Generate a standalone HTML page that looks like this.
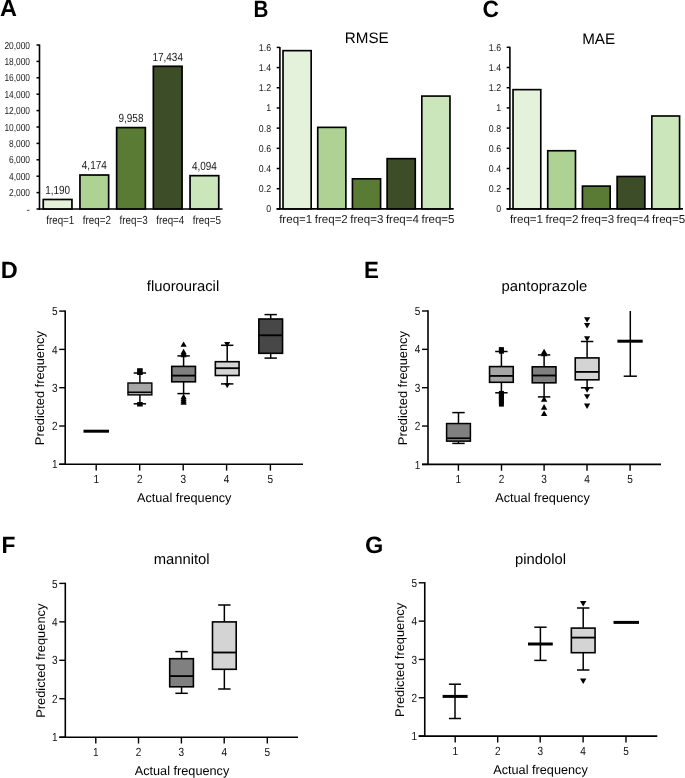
<!DOCTYPE html>
<html><head><meta charset="utf-8"><title>Figure</title>
<style>
html,body{margin:0;padding:0;background:#fff;}
body{width:685px;height:778px;overflow:hidden;}
svg{display:block;font-family:"Liberation Sans", sans-serif;text-rendering:geometricPrecision;will-change:transform;}
</style></head><body>
<svg width="685" height="778" viewBox="0 0 685 778">
<rect width="685" height="778" fill="#fff"/>
<text x="0.00" y="16.40" font-size="23.5" text-anchor="start" font-weight="bold" >A</text>
<text x="253.60" y="16.80" font-size="23.5" text-anchor="start" font-weight="bold" textLength="14.89" lengthAdjust="spacingAndGlyphs" >B</text>
<text x="482.60" y="16.80" font-size="23.5" text-anchor="start" font-weight="bold" textLength="16.46" lengthAdjust="spacingAndGlyphs" >C</text>
<text x="0.80" y="277.80" font-size="23.5" text-anchor="start" font-weight="bold" >D</text>
<text x="364.00" y="278.00" font-size="23.5" text-anchor="start" font-weight="bold" textLength="14.89" lengthAdjust="spacingAndGlyphs" >E</text>
<text x="1.40" y="552.90" font-size="23.5" text-anchor="start" font-weight="bold" textLength="13.92" lengthAdjust="spacingAndGlyphs" >F</text>
<text x="364.90" y="553.40" font-size="23.5" text-anchor="start" font-weight="bold" >G</text>
<line x1="39.50" y1="44.50" x2="39.50" y2="209.75" stroke="#000" stroke-width="1.6"/>
<line x1="38.70" y1="209.00" x2="222.60" y2="209.00" stroke="#000" stroke-width="1.6"/>
<line x1="36.50" y1="209.00" x2="39.50" y2="209.00" stroke="#000" stroke-width="1.5"/>
<text x="30.00" y="212.65" font-size="10.2" text-anchor="end" font-weight="normal" fill="#1a1a1a">-</text>
<line x1="36.50" y1="192.60" x2="39.50" y2="192.60" stroke="#000" stroke-width="1.5"/>
<text x="30.00" y="196.25" font-size="10.2" text-anchor="end" font-weight="normal" textLength="20.93" lengthAdjust="spacingAndGlyphs" fill="#1a1a1a">2,000</text>
<line x1="36.50" y1="176.20" x2="39.50" y2="176.20" stroke="#000" stroke-width="1.5"/>
<text x="30.00" y="179.85" font-size="10.2" text-anchor="end" font-weight="normal" textLength="20.93" lengthAdjust="spacingAndGlyphs" fill="#1a1a1a">4,000</text>
<line x1="36.50" y1="159.80" x2="39.50" y2="159.80" stroke="#000" stroke-width="1.5"/>
<text x="30.00" y="163.45" font-size="10.2" text-anchor="end" font-weight="normal" textLength="20.93" lengthAdjust="spacingAndGlyphs" fill="#1a1a1a">6,000</text>
<line x1="36.50" y1="143.40" x2="39.50" y2="143.40" stroke="#000" stroke-width="1.5"/>
<text x="30.00" y="147.05" font-size="10.2" text-anchor="end" font-weight="normal" textLength="20.93" lengthAdjust="spacingAndGlyphs" fill="#1a1a1a">8,000</text>
<line x1="36.50" y1="127.00" x2="39.50" y2="127.00" stroke="#000" stroke-width="1.5"/>
<text x="30.00" y="130.65" font-size="10.2" text-anchor="end" font-weight="normal" textLength="25.58" lengthAdjust="spacingAndGlyphs" fill="#1a1a1a">10,000</text>
<line x1="36.50" y1="110.60" x2="39.50" y2="110.60" stroke="#000" stroke-width="1.5"/>
<text x="30.00" y="114.25" font-size="10.2" text-anchor="end" font-weight="normal" textLength="25.58" lengthAdjust="spacingAndGlyphs" fill="#1a1a1a">12,000</text>
<line x1="36.50" y1="94.20" x2="39.50" y2="94.20" stroke="#000" stroke-width="1.5"/>
<text x="30.00" y="97.85" font-size="10.2" text-anchor="end" font-weight="normal" textLength="25.58" lengthAdjust="spacingAndGlyphs" fill="#1a1a1a">14,000</text>
<line x1="36.50" y1="77.80" x2="39.50" y2="77.80" stroke="#000" stroke-width="1.5"/>
<text x="30.00" y="81.45" font-size="10.2" text-anchor="end" font-weight="normal" textLength="25.58" lengthAdjust="spacingAndGlyphs" fill="#1a1a1a">16,000</text>
<line x1="36.50" y1="61.40" x2="39.50" y2="61.40" stroke="#000" stroke-width="1.5"/>
<text x="30.00" y="65.05" font-size="10.2" text-anchor="end" font-weight="normal" textLength="25.58" lengthAdjust="spacingAndGlyphs" fill="#1a1a1a">18,000</text>
<line x1="36.50" y1="45.00" x2="39.50" y2="45.00" stroke="#000" stroke-width="1.5"/>
<text x="30.00" y="48.65" font-size="10.2" text-anchor="end" font-weight="normal" textLength="25.58" lengthAdjust="spacingAndGlyphs" fill="#1a1a1a">20,000</text>
<rect x="43.25" y="199.49" width="28.70" height="9.46" fill="#e4f1db" stroke="#000" stroke-width="1.7"/>
<text x="57.60" y="193.94" font-size="11.8" text-anchor="middle" font-weight="normal" textLength="24.95" lengthAdjust="spacingAndGlyphs" fill="#1a1a1a">1,190</text>
<text x="60.25" y="223.60" font-size="11.7" text-anchor="middle" font-weight="normal" textLength="28.14" lengthAdjust="spacingAndGlyphs" fill="#1a1a1a">freq=1</text>
<rect x="79.95" y="175.02" width="28.70" height="33.93" fill="#aed293" stroke="#000" stroke-width="1.7"/>
<text x="94.30" y="169.47" font-size="11.8" text-anchor="middle" font-weight="normal" textLength="24.95" lengthAdjust="spacingAndGlyphs" fill="#1a1a1a">4,174</text>
<text x="96.92" y="223.60" font-size="11.7" text-anchor="middle" font-weight="normal" textLength="28.14" lengthAdjust="spacingAndGlyphs" fill="#1a1a1a">freq=2</text>
<rect x="116.65" y="127.59" width="28.70" height="81.36" fill="#5a7b34" stroke="#000" stroke-width="1.7"/>
<text x="131.00" y="122.04" font-size="11.8" text-anchor="middle" font-weight="normal" textLength="24.95" lengthAdjust="spacingAndGlyphs" fill="#1a1a1a">9,958</text>
<text x="133.59" y="223.60" font-size="11.7" text-anchor="middle" font-weight="normal" textLength="28.14" lengthAdjust="spacingAndGlyphs" fill="#1a1a1a">freq=3</text>
<rect x="153.35" y="66.29" width="28.70" height="142.66" fill="#3d4d27" stroke="#000" stroke-width="1.7"/>
<text x="167.70" y="60.74" font-size="11.8" text-anchor="middle" font-weight="normal" textLength="30.50" lengthAdjust="spacingAndGlyphs" fill="#1a1a1a">17,434</text>
<text x="170.26" y="223.60" font-size="11.7" text-anchor="middle" font-weight="normal" textLength="28.14" lengthAdjust="spacingAndGlyphs" fill="#1a1a1a">freq=4</text>
<rect x="190.05" y="175.68" width="28.70" height="33.27" fill="#cce6bb" stroke="#000" stroke-width="1.7"/>
<text x="204.40" y="170.13" font-size="11.8" text-anchor="middle" font-weight="normal" textLength="24.95" lengthAdjust="spacingAndGlyphs" fill="#1a1a1a">4,094</text>
<text x="206.93" y="223.60" font-size="11.7" text-anchor="middle" font-weight="normal" textLength="28.14" lengthAdjust="spacingAndGlyphs" fill="#1a1a1a">freq=5</text>
<line x1="279.90" y1="46.90" x2="279.90" y2="209.65" stroke="#000" stroke-width="1.6"/>
<line x1="276.60" y1="208.90" x2="453.70" y2="208.90" stroke="#000" stroke-width="1.6"/>
<line x1="276.70" y1="208.90" x2="279.90" y2="208.90" stroke="#000" stroke-width="1.5"/>
<text x="271.10" y="212.40" font-size="9.9" text-anchor="end" font-weight="normal" textLength="4.90" lengthAdjust="spacingAndGlyphs" fill="#1a1a1a">0</text>
<line x1="276.70" y1="188.71" x2="279.90" y2="188.71" stroke="#000" stroke-width="1.5"/>
<text x="271.10" y="192.21" font-size="9.9" text-anchor="end" font-weight="normal" textLength="12.25" lengthAdjust="spacingAndGlyphs" fill="#1a1a1a">0.2</text>
<line x1="276.70" y1="168.53" x2="279.90" y2="168.53" stroke="#000" stroke-width="1.5"/>
<text x="271.10" y="172.03" font-size="9.9" text-anchor="end" font-weight="normal" textLength="12.25" lengthAdjust="spacingAndGlyphs" fill="#1a1a1a">0.4</text>
<line x1="276.70" y1="148.34" x2="279.90" y2="148.34" stroke="#000" stroke-width="1.5"/>
<text x="271.10" y="151.84" font-size="9.9" text-anchor="end" font-weight="normal" textLength="12.25" lengthAdjust="spacingAndGlyphs" fill="#1a1a1a">0.6</text>
<line x1="276.70" y1="128.15" x2="279.90" y2="128.15" stroke="#000" stroke-width="1.5"/>
<text x="271.10" y="131.65" font-size="9.9" text-anchor="end" font-weight="normal" textLength="12.25" lengthAdjust="spacingAndGlyphs" fill="#1a1a1a">0.8</text>
<line x1="276.70" y1="107.96" x2="279.90" y2="107.96" stroke="#000" stroke-width="1.5"/>
<text x="271.10" y="111.46" font-size="9.9" text-anchor="end" font-weight="normal" textLength="4.90" lengthAdjust="spacingAndGlyphs" fill="#1a1a1a">1</text>
<line x1="276.70" y1="87.77" x2="279.90" y2="87.77" stroke="#000" stroke-width="1.5"/>
<text x="271.10" y="91.27" font-size="9.9" text-anchor="end" font-weight="normal" textLength="12.25" lengthAdjust="spacingAndGlyphs" fill="#1a1a1a">1.2</text>
<line x1="276.70" y1="67.59" x2="279.90" y2="67.59" stroke="#000" stroke-width="1.5"/>
<text x="271.10" y="71.09" font-size="9.9" text-anchor="end" font-weight="normal" textLength="12.25" lengthAdjust="spacingAndGlyphs" fill="#1a1a1a">1.4</text>
<line x1="276.70" y1="47.40" x2="279.90" y2="47.40" stroke="#000" stroke-width="1.5"/>
<text x="271.10" y="50.90" font-size="9.9" text-anchor="end" font-weight="normal" textLength="12.25" lengthAdjust="spacingAndGlyphs" fill="#1a1a1a">1.6</text>
<rect x="283.02" y="50.65" width="28.15" height="158.22" fill="#e4f1db" stroke="#000" stroke-width="1.65"/>
<text x="295.70" y="222.50" font-size="11.55" text-anchor="middle" font-weight="normal" fill="#1a1a1a">freq=1</text>
<rect x="317.72" y="127.37" width="28.15" height="81.51" fill="#aed293" stroke="#000" stroke-width="1.65"/>
<text x="331.27" y="222.50" font-size="11.55" text-anchor="middle" font-weight="normal" fill="#1a1a1a">freq=2</text>
<rect x="352.43" y="178.84" width="28.15" height="30.03" fill="#5a7b34" stroke="#000" stroke-width="1.65"/>
<text x="366.84" y="222.50" font-size="11.55" text-anchor="middle" font-weight="normal" fill="#1a1a1a">freq=3</text>
<rect x="387.12" y="158.66" width="28.15" height="50.22" fill="#3d4d27" stroke="#000" stroke-width="1.65"/>
<text x="402.41" y="222.50" font-size="11.55" text-anchor="middle" font-weight="normal" fill="#1a1a1a">freq=4</text>
<rect x="421.82" y="96.08" width="28.15" height="112.80" fill="#cce6bb" stroke="#000" stroke-width="1.65"/>
<text x="437.98" y="222.50" font-size="11.55" text-anchor="middle" font-weight="normal" fill="#1a1a1a">freq=5</text>
<text x="366.75" y="43.00" font-size="15.2" text-anchor="middle" font-weight="normal" >RMSE</text>
<line x1="509.90" y1="46.80" x2="509.90" y2="209.65" stroke="#000" stroke-width="1.6"/>
<line x1="506.60" y1="208.90" x2="683.00" y2="208.90" stroke="#000" stroke-width="1.6"/>
<line x1="506.70" y1="208.90" x2="509.90" y2="208.90" stroke="#000" stroke-width="1.5"/>
<text x="501.10" y="212.40" font-size="9.9" text-anchor="end" font-weight="normal" textLength="4.90" lengthAdjust="spacingAndGlyphs" fill="#1a1a1a">0</text>
<line x1="506.70" y1="188.70" x2="509.90" y2="188.70" stroke="#000" stroke-width="1.5"/>
<text x="501.10" y="192.20" font-size="9.9" text-anchor="end" font-weight="normal" textLength="12.25" lengthAdjust="spacingAndGlyphs" fill="#1a1a1a">0.2</text>
<line x1="506.70" y1="168.50" x2="509.90" y2="168.50" stroke="#000" stroke-width="1.5"/>
<text x="501.10" y="172.00" font-size="9.9" text-anchor="end" font-weight="normal" textLength="12.25" lengthAdjust="spacingAndGlyphs" fill="#1a1a1a">0.4</text>
<line x1="506.70" y1="148.30" x2="509.90" y2="148.30" stroke="#000" stroke-width="1.5"/>
<text x="501.10" y="151.80" font-size="9.9" text-anchor="end" font-weight="normal" textLength="12.25" lengthAdjust="spacingAndGlyphs" fill="#1a1a1a">0.6</text>
<line x1="506.70" y1="128.10" x2="509.90" y2="128.10" stroke="#000" stroke-width="1.5"/>
<text x="501.10" y="131.60" font-size="9.9" text-anchor="end" font-weight="normal" textLength="12.25" lengthAdjust="spacingAndGlyphs" fill="#1a1a1a">0.8</text>
<line x1="506.70" y1="107.90" x2="509.90" y2="107.90" stroke="#000" stroke-width="1.5"/>
<text x="501.10" y="111.40" font-size="9.9" text-anchor="end" font-weight="normal" textLength="4.90" lengthAdjust="spacingAndGlyphs" fill="#1a1a1a">1</text>
<line x1="506.70" y1="87.70" x2="509.90" y2="87.70" stroke="#000" stroke-width="1.5"/>
<text x="501.10" y="91.20" font-size="9.9" text-anchor="end" font-weight="normal" textLength="12.25" lengthAdjust="spacingAndGlyphs" fill="#1a1a1a">1.2</text>
<line x1="506.70" y1="67.50" x2="509.90" y2="67.50" stroke="#000" stroke-width="1.5"/>
<text x="501.10" y="71.00" font-size="9.9" text-anchor="end" font-weight="normal" textLength="12.25" lengthAdjust="spacingAndGlyphs" fill="#1a1a1a">1.4</text>
<line x1="506.70" y1="47.30" x2="509.90" y2="47.30" stroke="#000" stroke-width="1.5"/>
<text x="501.10" y="50.80" font-size="9.9" text-anchor="end" font-weight="normal" textLength="12.25" lengthAdjust="spacingAndGlyphs" fill="#1a1a1a">1.6</text>
<rect x="513.03" y="89.64" width="27.75" height="119.23" fill="#e4f1db" stroke="#000" stroke-width="1.65"/>
<text x="526.45" y="222.50" font-size="11.55" text-anchor="middle" font-weight="normal" fill="#1a1a1a">freq=1</text>
<rect x="547.73" y="150.75" width="27.75" height="58.13" fill="#aed293" stroke="#000" stroke-width="1.65"/>
<text x="562.00" y="222.50" font-size="11.55" text-anchor="middle" font-weight="normal" fill="#1a1a1a">freq=2</text>
<rect x="582.43" y="186.10" width="27.75" height="22.78" fill="#5a7b34" stroke="#000" stroke-width="1.65"/>
<text x="597.55" y="222.50" font-size="11.55" text-anchor="middle" font-weight="normal" fill="#1a1a1a">freq=3</text>
<rect x="617.12" y="176.50" width="27.75" height="32.37" fill="#3d4d27" stroke="#000" stroke-width="1.65"/>
<text x="633.10" y="222.50" font-size="11.55" text-anchor="middle" font-weight="normal" fill="#1a1a1a">freq=4</text>
<rect x="651.83" y="116.00" width="27.75" height="92.87" fill="#cce6bb" stroke="#000" stroke-width="1.65"/>
<text x="668.65" y="222.50" font-size="11.55" text-anchor="middle" font-weight="normal" fill="#1a1a1a">freq=5</text>
<text x="598.60" y="44.00" font-size="15.2" text-anchor="middle" font-weight="normal" >MAE</text>
<line x1="65.20" y1="310.40" x2="65.20" y2="464.30" stroke="#000" stroke-width="1.6"/>
<line x1="59.20" y1="464.30" x2="303.00" y2="464.30" stroke="#000" stroke-width="1.6"/>
<line x1="59.20" y1="311.10" x2="65.20" y2="311.10" stroke="#000" stroke-width="1.4"/>
<text x="57.60" y="315.20" font-size="11.8" text-anchor="end" font-weight="normal" textLength="5.58" lengthAdjust="spacingAndGlyphs" fill="#111">5</text>
<line x1="59.20" y1="349.40" x2="65.20" y2="349.40" stroke="#000" stroke-width="1.4"/>
<text x="57.60" y="353.50" font-size="11.8" text-anchor="end" font-weight="normal" textLength="5.58" lengthAdjust="spacingAndGlyphs" fill="#111">4</text>
<line x1="59.20" y1="387.70" x2="65.20" y2="387.70" stroke="#000" stroke-width="1.4"/>
<text x="57.60" y="391.80" font-size="11.8" text-anchor="end" font-weight="normal" textLength="5.58" lengthAdjust="spacingAndGlyphs" fill="#111">3</text>
<line x1="59.20" y1="426.00" x2="65.20" y2="426.00" stroke="#000" stroke-width="1.4"/>
<text x="57.60" y="430.10" font-size="11.8" text-anchor="end" font-weight="normal" textLength="5.58" lengthAdjust="spacingAndGlyphs" fill="#111">2</text>
<line x1="59.20" y1="464.30" x2="65.20" y2="464.30" stroke="#000" stroke-width="1.4"/>
<text x="57.60" y="468.40" font-size="11.8" text-anchor="end" font-weight="normal" textLength="5.58" lengthAdjust="spacingAndGlyphs" fill="#111">1</text>
<line x1="96.20" y1="464.30" x2="96.20" y2="470.60" stroke="#000" stroke-width="1.4"/>
<text x="96.20" y="483.00" font-size="11.8" text-anchor="middle" font-weight="normal" textLength="5.58" lengthAdjust="spacingAndGlyphs" fill="#111">1</text>
<line x1="139.70" y1="464.30" x2="139.70" y2="470.60" stroke="#000" stroke-width="1.4"/>
<text x="139.70" y="483.00" font-size="11.8" text-anchor="middle" font-weight="normal" textLength="5.58" lengthAdjust="spacingAndGlyphs" fill="#111">2</text>
<line x1="183.20" y1="464.30" x2="183.20" y2="470.60" stroke="#000" stroke-width="1.4"/>
<text x="183.20" y="483.00" font-size="11.8" text-anchor="middle" font-weight="normal" textLength="5.58" lengthAdjust="spacingAndGlyphs" fill="#111">3</text>
<line x1="226.60" y1="464.30" x2="226.60" y2="470.60" stroke="#000" stroke-width="1.4"/>
<text x="226.60" y="483.00" font-size="11.8" text-anchor="middle" font-weight="normal" textLength="5.58" lengthAdjust="spacingAndGlyphs" fill="#111">4</text>
<line x1="270.40" y1="464.30" x2="270.40" y2="470.60" stroke="#000" stroke-width="1.4"/>
<text x="270.40" y="483.00" font-size="11.8" text-anchor="middle" font-weight="normal" textLength="5.58" lengthAdjust="spacingAndGlyphs" fill="#111">5</text>
<text x="183.00" y="291.20" font-size="14.8" text-anchor="middle" font-weight="normal" >fluorouracil</text>
<text x="0" y="0" font-size="12.6" text-anchor="middle" textLength="114.08" lengthAdjust="spacingAndGlyphs" transform="translate(44.30,388.10) rotate(-90)">Predicted frequency</text>
<text x="184.20" y="502.00" font-size="12.7" text-anchor="middle" font-weight="normal" >Actual frequency</text>
<line x1="83.50" y1="431.20" x2="109.00" y2="431.20" stroke="#000" stroke-width="3"/>
<line x1="139.90" y1="373.00" x2="139.90" y2="382.80" stroke="#000" stroke-width="1.5"/>
<line x1="139.90" y1="395.10" x2="139.90" y2="403.80" stroke="#000" stroke-width="1.5"/>
<line x1="133.70" y1="373.00" x2="146.10" y2="373.00" stroke="#000" stroke-width="1.5"/>
<line x1="133.70" y1="403.80" x2="146.10" y2="403.80" stroke="#000" stroke-width="1.5"/>
<rect x="127.95" y="383.00" width="23.90" height="11.90" fill="#a6a6a6" stroke="#000" stroke-width="1.4"/>
<line x1="127.75" y1="392.25" x2="152.05" y2="392.25" stroke="#000" stroke-width="1.5"/>
<rect x="137.1" y="368.2" width="5.6" height="6.8" fill="#000"/>
<rect x="137.1" y="402.0" width="5.6" height="4.5" fill="#000"/>
<line x1="183.60" y1="355.90" x2="183.60" y2="366.10" stroke="#000" stroke-width="1.5"/>
<line x1="183.60" y1="382.10" x2="183.60" y2="393.60" stroke="#000" stroke-width="1.5"/>
<line x1="177.40" y1="355.90" x2="189.80" y2="355.90" stroke="#000" stroke-width="1.5"/>
<line x1="177.40" y1="393.60" x2="189.80" y2="393.60" stroke="#000" stroke-width="1.5"/>
<rect x="171.75" y="366.40" width="23.70" height="15.40" fill="#808080" stroke="#000" stroke-width="1.6"/>
<line x1="171.45" y1="375.60" x2="195.75" y2="375.60" stroke="#000" stroke-width="1.85"/>
<path d="M180.50,346.83 L186.70,346.83 L183.60,341.41Z" fill="#000"/>
<path d="M180.50,354.13 L186.70,354.13 L183.60,348.71Z" fill="#000"/>
<path d="M180.50,355.63 L186.70,355.63 L183.60,350.21Z" fill="#000"/>
<path d="M180.50,357.13 L186.70,357.13 L183.60,351.71Z" fill="#000"/>
<path d="M180.50,399.13 L186.70,399.13 L183.60,393.71Z" fill="#000"/>
<path d="M180.50,401.13 L186.70,401.13 L183.60,395.71Z" fill="#000"/>
<path d="M180.50,403.13 L186.70,403.13 L183.60,397.71Z" fill="#000"/>
<path d="M180.50,404.63 L186.70,404.63 L183.60,399.21Z" fill="#000"/>
<line x1="227.20" y1="345.30" x2="227.20" y2="361.40" stroke="#000" stroke-width="1.5"/>
<line x1="227.20" y1="375.80" x2="227.20" y2="383.90" stroke="#000" stroke-width="1.5"/>
<line x1="221.00" y1="345.30" x2="233.40" y2="345.30" stroke="#000" stroke-width="1.5"/>
<line x1="221.00" y1="383.90" x2="233.40" y2="383.90" stroke="#000" stroke-width="1.5"/>
<rect x="215.35" y="361.70" width="23.70" height="13.80" fill="#d4d4d4" stroke="#000" stroke-width="1.6"/>
<line x1="215.05" y1="368.20" x2="239.35" y2="368.20" stroke="#000" stroke-width="1.85"/>
<path d="M224.20,342.05 L230.20,342.05 L227.20,347.30Z" fill="#000"/>
<path d="M224.20,383.05 L230.20,383.05 L227.20,388.30Z" fill="#000"/>
<line x1="270.70" y1="314.60" x2="270.70" y2="318.70" stroke="#000" stroke-width="1.5"/>
<line x1="270.70" y1="353.60" x2="270.70" y2="358.10" stroke="#000" stroke-width="1.5"/>
<line x1="264.50" y1="314.60" x2="276.90" y2="314.60" stroke="#000" stroke-width="1.5"/>
<line x1="264.50" y1="358.10" x2="276.90" y2="358.10" stroke="#000" stroke-width="1.5"/>
<rect x="258.85" y="319.00" width="23.70" height="34.30" fill="#474747" stroke="#000" stroke-width="1.6"/>
<line x1="258.55" y1="335.30" x2="282.85" y2="335.30" stroke="#000" stroke-width="1.85"/>
<line x1="428.00" y1="310.30" x2="428.00" y2="464.40" stroke="#000" stroke-width="1.6"/>
<line x1="422.00" y1="464.40" x2="661.00" y2="464.40" stroke="#000" stroke-width="1.6"/>
<line x1="422.00" y1="311.00" x2="428.00" y2="311.00" stroke="#000" stroke-width="1.4"/>
<text x="420.40" y="315.10" font-size="11.8" text-anchor="end" font-weight="normal" textLength="5.58" lengthAdjust="spacingAndGlyphs" fill="#111">5</text>
<line x1="422.00" y1="349.35" x2="428.00" y2="349.35" stroke="#000" stroke-width="1.4"/>
<text x="420.40" y="353.45" font-size="11.8" text-anchor="end" font-weight="normal" textLength="5.58" lengthAdjust="spacingAndGlyphs" fill="#111">4</text>
<line x1="422.00" y1="387.70" x2="428.00" y2="387.70" stroke="#000" stroke-width="1.4"/>
<text x="420.40" y="391.80" font-size="11.8" text-anchor="end" font-weight="normal" textLength="5.58" lengthAdjust="spacingAndGlyphs" fill="#111">3</text>
<line x1="422.00" y1="426.05" x2="428.00" y2="426.05" stroke="#000" stroke-width="1.4"/>
<text x="420.40" y="430.15" font-size="11.8" text-anchor="end" font-weight="normal" textLength="5.58" lengthAdjust="spacingAndGlyphs" fill="#111">2</text>
<line x1="422.00" y1="464.40" x2="428.00" y2="464.40" stroke="#000" stroke-width="1.4"/>
<text x="420.40" y="468.50" font-size="11.8" text-anchor="end" font-weight="normal" textLength="5.58" lengthAdjust="spacingAndGlyphs" fill="#111">1</text>
<line x1="458.40" y1="464.40" x2="458.40" y2="470.70" stroke="#000" stroke-width="1.4"/>
<text x="458.40" y="483.10" font-size="11.8" text-anchor="middle" font-weight="normal" textLength="5.58" lengthAdjust="spacingAndGlyphs" fill="#111">1</text>
<line x1="501.50" y1="464.40" x2="501.50" y2="470.70" stroke="#000" stroke-width="1.4"/>
<text x="501.50" y="483.10" font-size="11.8" text-anchor="middle" font-weight="normal" textLength="5.58" lengthAdjust="spacingAndGlyphs" fill="#111">2</text>
<line x1="544.10" y1="464.40" x2="544.10" y2="470.70" stroke="#000" stroke-width="1.4"/>
<text x="544.10" y="483.10" font-size="11.8" text-anchor="middle" font-weight="normal" textLength="5.58" lengthAdjust="spacingAndGlyphs" fill="#111">3</text>
<line x1="587.00" y1="464.40" x2="587.00" y2="470.70" stroke="#000" stroke-width="1.4"/>
<text x="587.00" y="483.10" font-size="11.8" text-anchor="middle" font-weight="normal" textLength="5.58" lengthAdjust="spacingAndGlyphs" fill="#111">4</text>
<line x1="630.10" y1="464.40" x2="630.10" y2="470.70" stroke="#000" stroke-width="1.4"/>
<text x="630.10" y="483.10" font-size="11.8" text-anchor="middle" font-weight="normal" textLength="5.58" lengthAdjust="spacingAndGlyphs" fill="#111">5</text>
<text x="544.40" y="291.30" font-size="14.8" text-anchor="middle" font-weight="normal" >pantoprazole</text>
<text x="0" y="0" font-size="12.6" text-anchor="middle" textLength="114.08" lengthAdjust="spacingAndGlyphs" transform="translate(407.30,388.10) rotate(-90)">Predicted frequency</text>
<text x="542.50" y="502.00" font-size="12.7" text-anchor="middle" font-weight="normal" >Actual frequency</text>
<line x1="458.50" y1="412.60" x2="458.50" y2="423.30" stroke="#000" stroke-width="1.5"/>
<line x1="458.50" y1="441.40" x2="458.50" y2="443.40" stroke="#000" stroke-width="1.5"/>
<line x1="452.30" y1="412.60" x2="464.70" y2="412.60" stroke="#000" stroke-width="1.5"/>
<line x1="452.30" y1="443.40" x2="464.70" y2="443.40" stroke="#000" stroke-width="1.5"/>
<rect x="446.60" y="423.55" width="23.80" height="17.60" fill="#808080" stroke="#000" stroke-width="1.5"/>
<line x1="446.35" y1="438.20" x2="470.65" y2="438.20" stroke="#000" stroke-width="1.6"/>
<line x1="501.40" y1="351.50" x2="501.40" y2="366.30" stroke="#000" stroke-width="1.5"/>
<line x1="501.40" y1="382.60" x2="501.40" y2="392.80" stroke="#000" stroke-width="1.5"/>
<line x1="495.20" y1="351.50" x2="507.60" y2="351.50" stroke="#000" stroke-width="1.5"/>
<line x1="495.20" y1="392.80" x2="507.60" y2="392.80" stroke="#000" stroke-width="1.5"/>
<rect x="489.55" y="366.60" width="23.70" height="15.70" fill="#a6a6a6" stroke="#000" stroke-width="1.6"/>
<line x1="489.25" y1="375.90" x2="513.55" y2="375.90" stroke="#000" stroke-width="1.85"/>
<rect x="498.90" y="347.10" width="5.00" height="5.00" fill="#000"/>
<rect x="498.90" y="348.70" width="5.00" height="5.00" fill="#000"/>
<rect x="498.90" y="390.90" width="5.00" height="5.00" fill="#000"/>
<rect x="498.90" y="393.50" width="5.00" height="5.00" fill="#000"/>
<rect x="498.90" y="396.00" width="5.00" height="5.00" fill="#000"/>
<rect x="498.90" y="398.50" width="5.00" height="5.00" fill="#000"/>
<rect x="498.90" y="401.60" width="5.00" height="5.00" fill="#000"/>
<line x1="544.10" y1="354.90" x2="544.10" y2="366.50" stroke="#000" stroke-width="1.5"/>
<line x1="544.10" y1="383.10" x2="544.10" y2="396.90" stroke="#000" stroke-width="1.5"/>
<line x1="537.90" y1="354.90" x2="550.30" y2="354.90" stroke="#000" stroke-width="1.5"/>
<line x1="537.90" y1="396.90" x2="550.30" y2="396.90" stroke="#000" stroke-width="1.5"/>
<rect x="532.25" y="366.80" width="23.70" height="16.00" fill="#808080" stroke="#000" stroke-width="1.6"/>
<line x1="531.95" y1="375.50" x2="556.25" y2="375.50" stroke="#000" stroke-width="1.85"/>
<path d="M540.90,354.32 L547.30,354.32 L544.10,348.72Z" fill="#000"/>
<path d="M540.90,356.32 L547.30,356.32 L544.10,350.72Z" fill="#000"/>
<path d="M540.90,401.72 L547.30,401.72 L544.10,396.12Z" fill="#000"/>
<path d="M540.90,409.72 L547.30,409.72 L544.10,404.12Z" fill="#000"/>
<path d="M540.90,416.12 L547.30,416.12 L544.10,410.52Z" fill="#000"/>
<line x1="587.10" y1="341.50" x2="587.10" y2="357.60" stroke="#000" stroke-width="1.5"/>
<line x1="587.10" y1="380.10" x2="587.10" y2="387.80" stroke="#000" stroke-width="1.5"/>
<line x1="580.90" y1="341.50" x2="593.30" y2="341.50" stroke="#000" stroke-width="1.5"/>
<line x1="580.90" y1="387.80" x2="593.30" y2="387.80" stroke="#000" stroke-width="1.5"/>
<rect x="575.25" y="357.90" width="23.70" height="21.90" fill="#d4d4d4" stroke="#000" stroke-width="1.6"/>
<line x1="574.95" y1="371.90" x2="599.25" y2="371.90" stroke="#000" stroke-width="1.85"/>
<path d="M584.00,317.17 L590.20,317.17 L587.10,322.59Z" fill="#000"/>
<path d="M584.00,322.97 L590.20,322.97 L587.10,328.39Z" fill="#000"/>
<path d="M584.00,336.26 L590.20,336.26 L587.10,341.69Z" fill="#000"/>
<path d="M584.00,387.26 L590.20,387.26 L587.10,392.69Z" fill="#000"/>
<path d="M584.00,394.17 L590.20,394.17 L587.10,399.59Z" fill="#000"/>
<path d="M584.00,403.56 L590.20,403.56 L587.10,408.99Z" fill="#000"/>
<line x1="630.30" y1="311.00" x2="630.30" y2="376.20" stroke="#000" stroke-width="1.5"/>
<line x1="623.70" y1="376.20" x2="636.90" y2="376.20" stroke="#000" stroke-width="1.5"/>
<line x1="617.40" y1="341.20" x2="642.70" y2="341.20" stroke="#000" stroke-width="3"/>
<line x1="65.30" y1="582.70" x2="65.30" y2="737.20" stroke="#000" stroke-width="1.6"/>
<line x1="59.30" y1="737.20" x2="298.00" y2="737.20" stroke="#000" stroke-width="1.6"/>
<line x1="59.30" y1="583.40" x2="65.30" y2="583.40" stroke="#000" stroke-width="1.4"/>
<text x="57.70" y="587.50" font-size="11.8" text-anchor="end" font-weight="normal" textLength="5.58" lengthAdjust="spacingAndGlyphs" fill="#111">5</text>
<line x1="59.30" y1="621.85" x2="65.30" y2="621.85" stroke="#000" stroke-width="1.4"/>
<text x="57.70" y="625.95" font-size="11.8" text-anchor="end" font-weight="normal" textLength="5.58" lengthAdjust="spacingAndGlyphs" fill="#111">4</text>
<line x1="59.30" y1="660.30" x2="65.30" y2="660.30" stroke="#000" stroke-width="1.4"/>
<text x="57.70" y="664.40" font-size="11.8" text-anchor="end" font-weight="normal" textLength="5.58" lengthAdjust="spacingAndGlyphs" fill="#111">3</text>
<line x1="59.30" y1="698.75" x2="65.30" y2="698.75" stroke="#000" stroke-width="1.4"/>
<text x="57.70" y="702.85" font-size="11.8" text-anchor="end" font-weight="normal" textLength="5.58" lengthAdjust="spacingAndGlyphs" fill="#111">2</text>
<line x1="59.30" y1="737.20" x2="65.30" y2="737.20" stroke="#000" stroke-width="1.4"/>
<text x="57.70" y="741.30" font-size="11.8" text-anchor="end" font-weight="normal" textLength="5.58" lengthAdjust="spacingAndGlyphs" fill="#111">1</text>
<line x1="95.80" y1="737.20" x2="95.80" y2="743.50" stroke="#000" stroke-width="1.4"/>
<text x="95.80" y="755.90" font-size="11.8" text-anchor="middle" font-weight="normal" textLength="5.58" lengthAdjust="spacingAndGlyphs" fill="#111">1</text>
<line x1="138.50" y1="737.20" x2="138.50" y2="743.50" stroke="#000" stroke-width="1.4"/>
<text x="138.50" y="755.90" font-size="11.8" text-anchor="middle" font-weight="normal" textLength="5.58" lengthAdjust="spacingAndGlyphs" fill="#111">2</text>
<line x1="181.40" y1="737.20" x2="181.40" y2="743.50" stroke="#000" stroke-width="1.4"/>
<text x="181.40" y="755.90" font-size="11.8" text-anchor="middle" font-weight="normal" textLength="5.58" lengthAdjust="spacingAndGlyphs" fill="#111">3</text>
<line x1="224.20" y1="737.20" x2="224.20" y2="743.50" stroke="#000" stroke-width="1.4"/>
<text x="224.20" y="755.90" font-size="11.8" text-anchor="middle" font-weight="normal" textLength="5.58" lengthAdjust="spacingAndGlyphs" fill="#111">4</text>
<line x1="267.30" y1="737.20" x2="267.30" y2="743.50" stroke="#000" stroke-width="1.4"/>
<text x="267.30" y="755.90" font-size="11.8" text-anchor="middle" font-weight="normal" textLength="5.58" lengthAdjust="spacingAndGlyphs" fill="#111">5</text>
<text x="181.65" y="563.90" font-size="14.8" text-anchor="middle" font-weight="normal" >mannitol</text>
<text x="0" y="0" font-size="12.6" text-anchor="middle" textLength="114.08" lengthAdjust="spacingAndGlyphs" transform="translate(44.80,660.70) rotate(-90)">Predicted frequency</text>
<text x="182.00" y="775.20" font-size="12.7" text-anchor="middle" font-weight="normal" >Actual frequency</text>
<line x1="181.55" y1="651.60" x2="181.55" y2="658.40" stroke="#000" stroke-width="1.5"/>
<line x1="181.55" y1="687.10" x2="181.55" y2="693.30" stroke="#000" stroke-width="1.5"/>
<line x1="175.35" y1="651.60" x2="187.75" y2="651.60" stroke="#000" stroke-width="1.5"/>
<line x1="175.35" y1="693.30" x2="187.75" y2="693.30" stroke="#000" stroke-width="1.5"/>
<rect x="169.70" y="658.70" width="23.70" height="28.10" fill="#808080" stroke="#000" stroke-width="1.6"/>
<line x1="169.40" y1="676.10" x2="193.70" y2="676.10" stroke="#000" stroke-width="1.85"/>
<line x1="224.35" y1="605.00" x2="224.35" y2="621.60" stroke="#000" stroke-width="1.5"/>
<line x1="224.35" y1="669.60" x2="224.35" y2="689.00" stroke="#000" stroke-width="1.5"/>
<line x1="218.15" y1="605.00" x2="230.55" y2="605.00" stroke="#000" stroke-width="1.5"/>
<line x1="218.15" y1="689.00" x2="230.55" y2="689.00" stroke="#000" stroke-width="1.5"/>
<rect x="212.50" y="621.90" width="23.70" height="47.40" fill="#d4d4d4" stroke="#000" stroke-width="1.6"/>
<line x1="212.20" y1="652.50" x2="236.50" y2="652.50" stroke="#000" stroke-width="1.85"/>
<line x1="424.75" y1="582.10" x2="424.75" y2="736.10" stroke="#000" stroke-width="1.6"/>
<line x1="418.75" y1="736.10" x2="657.30" y2="736.10" stroke="#000" stroke-width="1.6"/>
<line x1="418.75" y1="582.80" x2="424.75" y2="582.80" stroke="#000" stroke-width="1.4"/>
<text x="417.15" y="586.90" font-size="11.8" text-anchor="end" font-weight="normal" textLength="5.58" lengthAdjust="spacingAndGlyphs" fill="#111">5</text>
<line x1="418.75" y1="621.12" x2="424.75" y2="621.12" stroke="#000" stroke-width="1.4"/>
<text x="417.15" y="625.23" font-size="11.8" text-anchor="end" font-weight="normal" textLength="5.58" lengthAdjust="spacingAndGlyphs" fill="#111">4</text>
<line x1="418.75" y1="659.45" x2="424.75" y2="659.45" stroke="#000" stroke-width="1.4"/>
<text x="417.15" y="663.55" font-size="11.8" text-anchor="end" font-weight="normal" textLength="5.58" lengthAdjust="spacingAndGlyphs" fill="#111">3</text>
<line x1="418.75" y1="697.77" x2="424.75" y2="697.77" stroke="#000" stroke-width="1.4"/>
<text x="417.15" y="701.88" font-size="11.8" text-anchor="end" font-weight="normal" textLength="5.58" lengthAdjust="spacingAndGlyphs" fill="#111">2</text>
<line x1="418.75" y1="736.10" x2="424.75" y2="736.10" stroke="#000" stroke-width="1.4"/>
<text x="417.15" y="740.20" font-size="11.8" text-anchor="end" font-weight="normal" textLength="5.58" lengthAdjust="spacingAndGlyphs" fill="#111">1</text>
<line x1="455.20" y1="736.10" x2="455.20" y2="742.40" stroke="#000" stroke-width="1.4"/>
<text x="455.20" y="754.80" font-size="11.8" text-anchor="middle" font-weight="normal" textLength="5.58" lengthAdjust="spacingAndGlyphs" fill="#111">1</text>
<line x1="497.70" y1="736.10" x2="497.70" y2="742.40" stroke="#000" stroke-width="1.4"/>
<text x="497.70" y="754.80" font-size="11.8" text-anchor="middle" font-weight="normal" textLength="5.58" lengthAdjust="spacingAndGlyphs" fill="#111">2</text>
<line x1="540.20" y1="736.10" x2="540.20" y2="742.40" stroke="#000" stroke-width="1.4"/>
<text x="540.20" y="754.80" font-size="11.8" text-anchor="middle" font-weight="normal" textLength="5.58" lengthAdjust="spacingAndGlyphs" fill="#111">3</text>
<line x1="583.10" y1="736.10" x2="583.10" y2="742.40" stroke="#000" stroke-width="1.4"/>
<text x="583.10" y="754.80" font-size="11.8" text-anchor="middle" font-weight="normal" textLength="5.58" lengthAdjust="spacingAndGlyphs" fill="#111">4</text>
<line x1="626.00" y1="736.10" x2="626.00" y2="742.40" stroke="#000" stroke-width="1.4"/>
<text x="626.00" y="754.80" font-size="11.8" text-anchor="middle" font-weight="normal" textLength="5.58" lengthAdjust="spacingAndGlyphs" fill="#111">5</text>
<text x="540.50" y="563.90" font-size="14.8" text-anchor="middle" font-weight="normal" >pindolol</text>
<text x="0" y="0" font-size="12.6" text-anchor="middle" textLength="114.08" lengthAdjust="spacingAndGlyphs" transform="translate(403.60,659.85) rotate(-90)">Predicted frequency</text>
<text x="540.50" y="773.80" font-size="12.7" text-anchor="middle" font-weight="normal" >Actual frequency</text>
<line x1="455.00" y1="684.20" x2="455.00" y2="718.50" stroke="#000" stroke-width="1.5"/>
<line x1="448.90" y1="684.20" x2="461.00" y2="684.20" stroke="#000" stroke-width="1.5"/>
<line x1="448.90" y1="718.50" x2="461.00" y2="718.50" stroke="#000" stroke-width="1.5"/>
<line x1="442.60" y1="696.40" x2="467.60" y2="696.40" stroke="#000" stroke-width="3"/>
<line x1="540.40" y1="627.20" x2="540.40" y2="660.40" stroke="#000" stroke-width="1.5"/>
<line x1="534.30" y1="627.20" x2="546.60" y2="627.20" stroke="#000" stroke-width="1.5"/>
<line x1="534.30" y1="660.40" x2="546.60" y2="660.40" stroke="#000" stroke-width="1.5"/>
<line x1="528.00" y1="644.00" x2="552.80" y2="644.00" stroke="#000" stroke-width="3"/>
<line x1="583.20" y1="608.00" x2="583.20" y2="627.80" stroke="#000" stroke-width="1.5"/>
<line x1="583.20" y1="653.00" x2="583.20" y2="670.00" stroke="#000" stroke-width="1.5"/>
<line x1="577.00" y1="608.00" x2="589.40" y2="608.00" stroke="#000" stroke-width="1.5"/>
<line x1="577.00" y1="670.00" x2="589.40" y2="670.00" stroke="#000" stroke-width="1.5"/>
<rect x="571.35" y="628.10" width="23.70" height="24.60" fill="#d4d4d4" stroke="#000" stroke-width="1.6"/>
<line x1="571.05" y1="637.60" x2="595.35" y2="637.60" stroke="#000" stroke-width="1.85"/>
<path d="M580.00,600.88 L586.40,600.88 L583.20,606.48Z" fill="#000"/>
<path d="M580.00,678.38 L586.40,678.38 L583.20,683.98Z" fill="#000"/>
<line x1="613.50" y1="622.40" x2="639.00" y2="622.40" stroke="#000" stroke-width="3"/>
</svg>
</body></html>
